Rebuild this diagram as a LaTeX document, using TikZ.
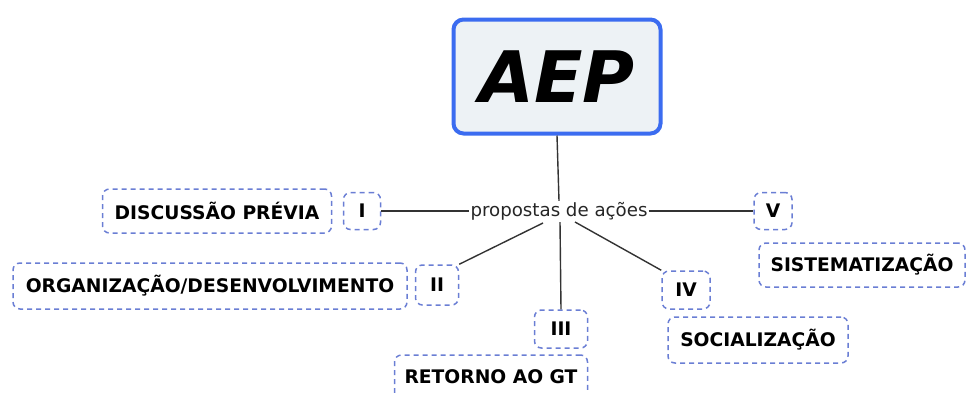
\documentclass[tikz,border=0pt]{standalone}
\usepackage{fontspec}
\setmainfont{DejaVu Sans}
\begin{document}
\begin{tikzpicture}[x=1pt,y=-1pt,
  lbl/.style={draw=dashblue, line width=1.5pt, dash pattern=on 5pt off 4pt, rounded corners=7pt,
     font=\fontsize{18.7}{20}\selectfont\bfseries, text=black, inner sep=0pt, align=center},
  conn/.style={draw=linegray, line width=1.4pt}]
\definecolor{dashblue}{HTML}{6A7ED4}
\definecolor{aepblue}{HTML}{3B6CF0}
\definecolor{aepfill}{HTML}{EDF2F5}
\definecolor{linegray}{HTML}{333333}
\useasboundingbox (0,0) rectangle (966,392);
\node[draw=aepblue, line width=4pt, fill=aepfill, rounded corners=10pt,
      minimum width=207pt, minimum height=114pt, inner sep=0pt,
      font=\fontsize{71}{75}\selectfont\bfseries\itshape] (aep) at (557,76.5) {AEP};
\node[font=\fontsize{18.2}{20}\selectfont, inner sep=1pt, text=black!85] (prop) at (559,211) {propostas de ações};
\node[lbl, minimum width=37pt, minimum height=37pt] (n1) at (362,211) {I};
\node[lbl, minimum width=229pt, minimum height=44pt] (d1) at (217,211) {DISCUSSÃO PRÉVIA};
\node[lbl, minimum width=43pt, minimum height=40pt] (n2) at (437,285) {II};
\node[lbl, minimum width=394pt, minimum height=46pt] (d2) at (210,286) {ORGANIZAÇÃO/DESENVOLVIMENTO};
\node[lbl, minimum width=53pt, minimum height=38pt] (n3) at (561,329) {III};
\node[lbl, minimum width=193pt, minimum height=44pt] (d3) at (491,377) {RETORNO AO GT};
\node[lbl, minimum width=48pt, minimum height=38pt] (n4) at (686,290) {IV};
\node[lbl, minimum width=180pt, minimum height=46pt] (d4) at (758,340) {SOCIALIZAÇÃO};
\node[lbl, minimum width=38pt, minimum height=37pt] (n5) at (773,211) {V};
\node[lbl, minimum width=206pt, minimum height=44pt] (d5) at (862,265) {SISTEMATIZAÇÃO};
\draw[conn] (aep.south) -- (prop.north);
\draw[conn] (n1.east) -- (prop.west);
\draw[conn] (prop.east) -- (n5.west);
\coordinate (p2) at (543,223);
\coordinate (p3) at (560,222);
\coordinate (p4) at (575,222);
\draw[conn] (p2) -- (n2.north east);
\draw[conn] (p3) -- (n3.north);
\draw[conn] (p4) -- (n4.north west);
\end{tikzpicture}
\end{document}
